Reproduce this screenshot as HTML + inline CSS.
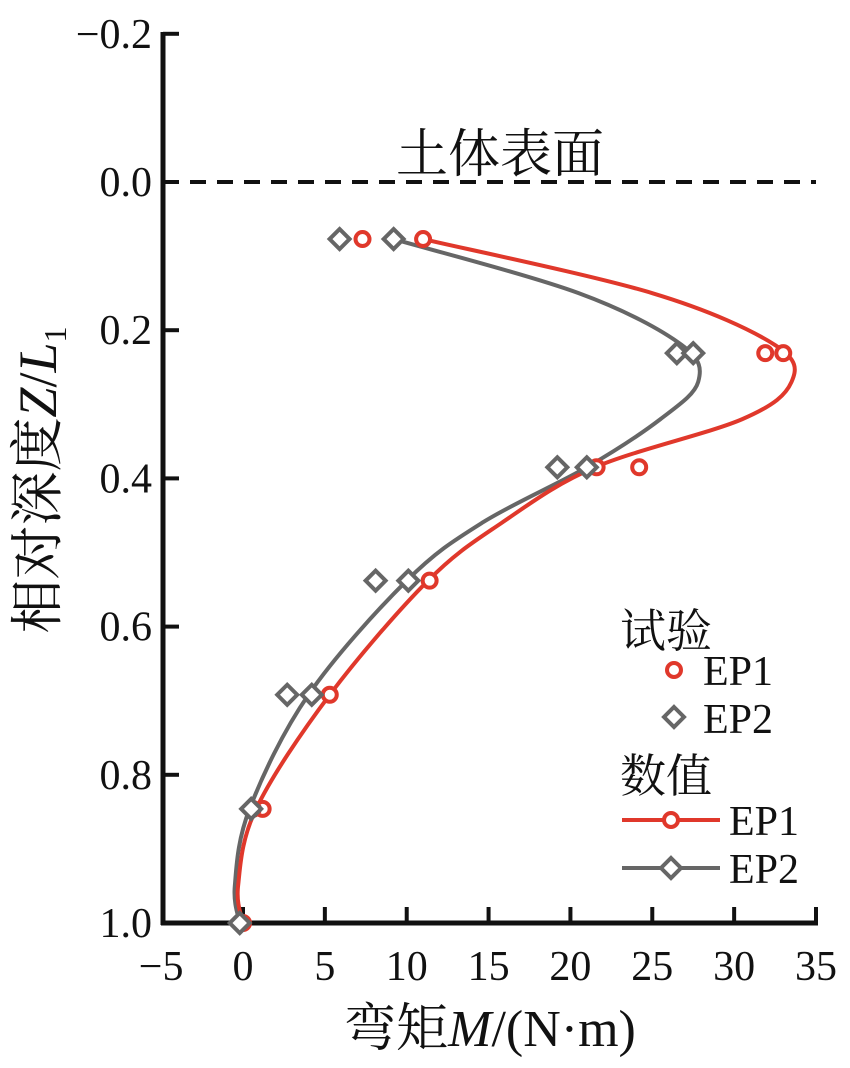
<!DOCTYPE html>
<html><head><meta charset="utf-8"><style>
body{margin:0;background:#fff}
svg text{font-family:"Liberation Serif","Noto Serif CJK SC","Noto Sans CJK SC",serif;fill:#111}
</style></head><body>
<svg id="c" width="850" height="1063" viewBox="0 0 850 1063">
<g id="axes"></g><g id="marks"></g><g id="legend"></g>
<text x="500" y="172" font-size="52" text-anchor="middle">土体表面</text>
<text x="490" y="1046" font-size="52" text-anchor="middle">弯矩<tspan font-style="italic">M</tspan>/(N·m)</text>
<text transform="translate(56,480) rotate(-90)" font-size="54" text-anchor="middle">相对深度<tspan font-style="italic">Z</tspan>/<tspan font-style="italic">L</tspan><tspan font-size="32" dy="10">1</tspan></text>
</svg>
<script>
const xTicks=[-5,0,5,10,15,20,25,30,35];
const yTicks=[-0.2,0.0,0.2,0.4,0.6,0.8,1.0];
const ep1ExpDepth=[0.077,0.077,0.231,0.231,0.385,0.385,0.538,0.692,0.846,0.846,1.0];
const ep1ExpM=[7.3,11.0,31.9,33.0,21.6,24.2,11.4,5.3,1.2,0.6,0.0];
const ep2ExpDepth=[0.077,0.077,0.231,0.231,0.385,0.385,0.538,0.538,0.692,0.692,0.846,1.0];
const ep2ExpM=[5.9,9.2,26.5,27.5,19.2,21.0,8.1,10.1,2.7,4.2,0.5,-0.2];
const ep1NumDepth=[0.077,0.15,0.22,0.27,0.32,0.385,0.46,0.538,0.692,0.846,0.95,1.0];
const ep1NumM=[11.0,25.0,32.5,33.5,30.5,21.5,15.8,11.3,5.3,0.8,-0.3,0.0];
const ep2NumDepth=[0.077,0.15,0.22,0.27,0.32,0.385,0.46,0.538,0.692,0.846,0.95,1.0];
const ep2NumM=[9.2,20.5,26.8,27.8,25.5,21.0,14.6,10.0,4.0,0.4,-0.5,-0.2];
const NS='http://www.w3.org/2000/svg';
const X0=163,X1=816,Y0=34,Y1=923;
const sx=v=>243+(v)*(816-243)/35;
const sy=v=>182+v*741;
function mk(t,a,p){const e=document.createElementNS(NS,t);for(const k in a)e.setAttribute(k,a[k]);document.getElementById(p).appendChild(e);return e;}
let e=mk('line',{x1:X0,y1:Y0-2,x2:X0,y2:Y1+2,stroke:'#111','stroke-width':5},'axes');

e=mk('line',{x1:X0-2,y1:Y1,x2:X1+2,y2:Y1,stroke:'#111','stroke-width':5},'axes');

xTicks.forEach(v=>{const x=sx(v);
 if(v>-5){const t=mk('line',{x1:x,y1:Y1,x2:x,y2:Y1-16,stroke:'#111','stroke-width':4},'axes');
 }
 const l=mk('text',{x:x,y:980,'font-size':42,'text-anchor':'middle'},'axes');l.textContent=v<0?'\u2212'+(-v):v;
 });
yTicks.forEach(v=>{const y=sy(v);
 const t=mk('line',{x1:X0,y1:y,x2:X0+16,y2:y,stroke:'#111','stroke-width':4},'axes');
 
 const l=mk('text',{x:152,y:y+14,'font-size':42,'text-anchor':'end'},'axes');l.textContent=(v<0?'\u2212':'')+Math.abs(v).toFixed(1);
 });
e=mk('line',{x1:X0,y1:sy(0),x2:X1,y2:sy(0),stroke:'#111','stroke-width':4,'stroke-dasharray':'16,11'},'axes');

function curve(ms,ds){const p=ms.map((m,i)=>[sx(m),sy(ds[i])]);let d='M'+p[0];
 for(let i=0;i<p.length-1;i++){const a=p[i-1]||p[i],b=p[i],c=p[i+1],n=p[i+2]||c;
 d+=' C'+[b[0]+(c[0]-a[0])/6,b[1]+(c[1]-a[1])/6]+' '+[c[0]-(n[0]-b[0])/6,c[1]-(n[1]-b[1])/6]+' '+c;}return d;}
e=mk('path',{d:curve(ep2NumM,ep2NumDepth),fill:'none',stroke:'#666','stroke-width':4},'marks');

e=mk('path',{d:curve(ep1NumM,ep1NumDepth),fill:'none',stroke:'#e0382b','stroke-width':4},'marks');

function dia(x,y,p){return mk('path',{d:`M${x},${y-10}L${x+10},${y}L${x},${y+10}L${x-10},${y}Z`,fill:'#fff',stroke:'#666','stroke-width':4},p);}
function circ(x,y,p){return mk('circle',{cx:x,cy:y,r:7,fill:'#fff',stroke:'#e0382b','stroke-width':4},p);}
ep1ExpM.forEach((m,i)=>{const c=circ(sx(m),sy(ep1ExpDepth[i]),'marks');
 });
ep2ExpM.forEach((m,i)=>{const c=dia(sx(m),sy(ep2ExpDepth[i]),'marks');
 });
function txt(s,x,y,fs,n){const t=mk('text',{x:x,y:y,'font-size':fs},'legend');t.textContent=s;}
txt('试验',620,647,46,'legend-test-heading');
e=circ(674,670,'legend');
txt('EP1',703,685,42,'legend-ep1-test-label');
e=dia(674,717,'legend');
txt('EP2',703,733,42,'legend-ep2-test-label');
txt('数值',620,792,46,'legend-numerical-heading');
e=mk('line',{x1:622,y1:820,x2:720,y2:820,stroke:'#e0382b','stroke-width':4},'legend');
e=circ(671,820,'legend');
txt('EP1',729,835,42,'legend-ep1-num-label');
e=mk('line',{x1:622,y1:868,x2:720,y2:868,stroke:'#666','stroke-width':4},'legend');
e=dia(671,868,'legend');
txt('EP2',729,883,42,'legend-ep2-num-label');
</script>
</body></html>
